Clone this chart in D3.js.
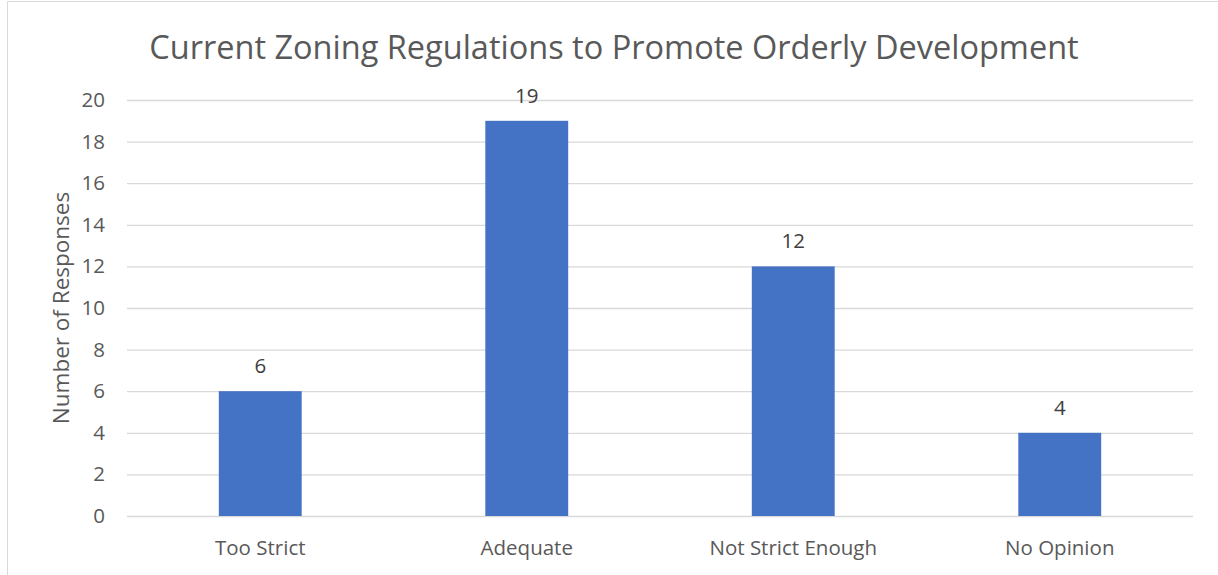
<!DOCTYPE html>
<html><head><meta charset="utf-8">
<script src="https://cdn.jsdelivr.net/npm/d3@7"></script>
<style>body{margin:0;background:#fff;} text{font-family:"Open Sans",sans-serif;}</style>
</head><body>
<svg id="c" width="1218" height="575"></svg>
<script>
const categories = ["Too Strict", "Adequate", "Not Strict Enough", "No Opinion"];
const values = [6, 19, 12, 4];
const yTicks = [0, 2, 4, 6, 8, 10, 12, 14, 16, 18, 20];
const title = "Current Zoning Regulations to Promote Orderly Development";
const yTitle = "Number of Responses";

const svg = d3.select("#c");
const m = {left: 127, right: 1193, top: 100, bottom: 516};
// border
svg.append("path").attr("d", "M7.5,575 V1.5 H1218").attr("fill", "none").attr("stroke", "#d9d9d9").attr("stroke-width", 1);

const x = d3.scaleBand().domain(categories).range([m.left, m.right]).paddingInner(0.689).paddingOuter(0.3445);
const y = d3.scaleLinear().domain([0, 20]).range([m.bottom, m.top]);

// gridlines
const yAxis = d3.axisLeft(y).tickValues(yTicks).tickSize(-(m.right - m.left)).tickPadding(22);
const ga = svg.append("g").attr("transform", `translate(${m.left},0)`).call(yAxis);
ga.select(".domain").remove();
ga.selectAll(".tick line").attr("stroke", "#d9d9d9").attr("stroke-width", 1.3);
ga.selectAll(".tick text").attr("fill", "#595959").style("font-size", "20.5px").attr("font-family", "Open Sans");

// bars
svg.selectAll("rect.bar").data(values).enter().append("rect")
  .attr("class", "bar")
  .attr("x", (d, i) => x(categories[i]))
  .attr("y", d => y(d))
  .attr("width", x.bandwidth())
  .attr("height", d => y(0) - y(d))
  .attr("fill", "#4472c4");

// value labels
svg.selectAll("text.val").data(values).enter().append("text")
  .attr("class", "val")
  .attr("x", (d, i) => x(categories[i]) + x.bandwidth() / 2)
  .attr("y", d => y(d) - 18)
  .attr("text-anchor", "middle")
  .attr("fill", "#404040").style("font-size", "20.5px")
  .text(d => d);

// x axis labels
const xAxis = d3.axisBottom(x).tickSize(0).tickPadding(24);
const gx = svg.append("g").attr("transform", `translate(0,${m.bottom})`).call(xAxis);
gx.select(".domain").remove();
gx.selectAll(".tick text").attr("fill", "#595959").style("font-size", "20.5px").attr("font-family", "Open Sans");

// title
svg.append("text").attr("x", 614).attr("y", 59).attr("text-anchor", "middle")
  .attr("fill", "#595959").style("font-size", "32.5px").text(title);

// y title
svg.append("text").attr("transform", "translate(69,308) rotate(-90)").attr("text-anchor", "middle")
  .attr("fill", "#595959").style("font-size", "22.5px").text(yTitle);
</script>
</body></html>
